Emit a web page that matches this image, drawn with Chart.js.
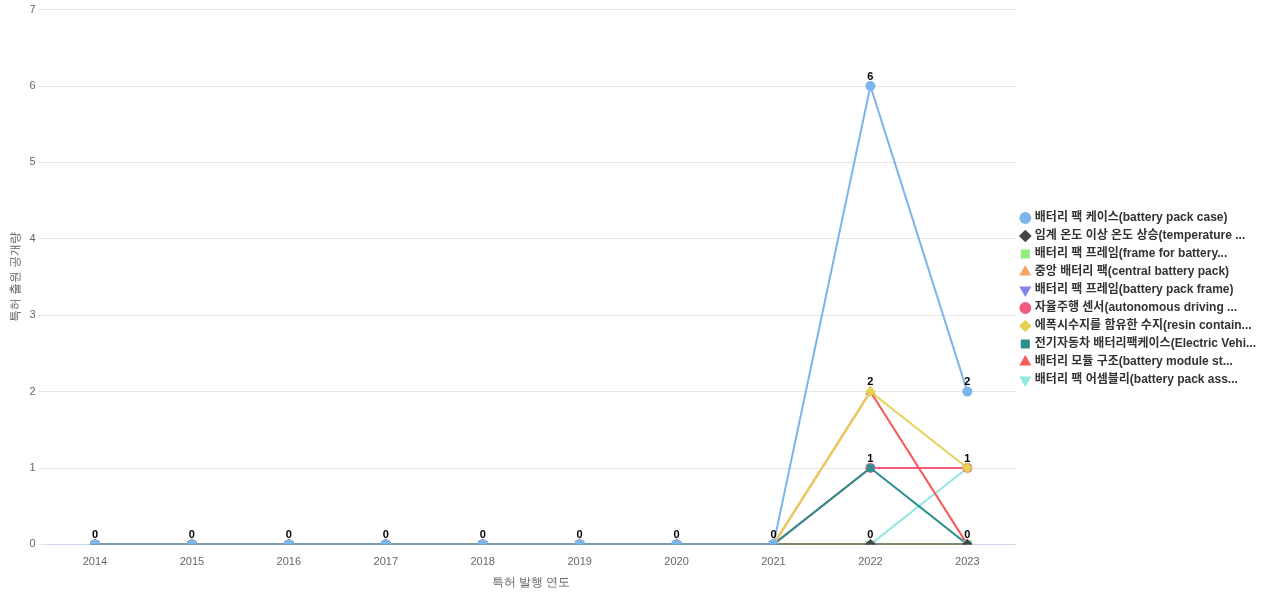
<!DOCTYPE html>
<html><head><meta charset="utf-8">
<script src="https://cdn.jsdelivr.net/npm/chart.js@4"></script>
<style>body{margin:0;background:#fff}#w{width:1280px;height:600px}</style>
</head><body><div id="w"><canvas id="c"></canvas></div>
<script>
const years = ['2014','2015','2016','2017','2018','2019','2020','2021','2022','2023'];
const names = ['배터리 팩 케이스(battery pack case)','임계 온도 이상 온도 상승(temperature ...','배터리 팩 프레임(frame for battery...','중앙 배터리 팩(central battery pack)','배터리 팩 프레임(battery pack frame)','자율주행 센서(autonomous driving ...','에폭시수지를 함유한 수지(resin contain...','전기자동차 배터리팩케이스(Electric Vehi...','배터리 모듈 구조(battery module st...','배터리 팩 어셈블리(battery pack ass...'];
const s0 = [0,0,0,0,0,0,0,0,6,2];
const s1 = [0,0,0,0,0,0,0,0,0,0];
const s2 = [0,0,0,0,0,0,0,0,0,0];
const s3 = [0,0,0,0,0,0,0,0,0,0];
const s4 = [0,0,0,0,0,0,0,0,0,0];
const s5 = [0,0,0,0,0,0,0,0,1,1];
const s6 = [0,0,0,0,0,0,0,0,2,1];
const s7 = [0,0,0,0,0,0,0,0,1,0];
const s8 = [0,0,0,0,0,0,0,0,2,0];
const s9 = [0,0,0,0,0,0,0,0,0,1];
const series = [s0,s1,s2,s3,s4,s5,s6,s7,s8,s9];
const colors = ['#7cb5ec','#434348','#90ed7d','#f7a35c','#8085e9','#f15c80','#e4d354','#2b908f','#f45b5b','#91e8e1'];
const styles = ['circle','rectRot','rect','triangle','triangle','circle','rectRot','rect','triangle','triangle'];
const rots = [0,0,0,0,180,0,0,0,0,180];
const orders = [0,1,2,3,4,8,5,6,7,9];
const labelPlugin = {id:'lbl',afterDatasetsDraw(ch){
  const ctx=ch.ctx;ctx.save();ctx.font='bold 11px "Liberation Sans",Arial';ctx.fillStyle='#000';ctx.textAlign='center';ctx.textBaseline='bottom';
  years.forEach((y,i)=>{const seen=new Set();ch.data.datasets.forEach((d,di)=>{const v=d.data[i];if(seen.has(v))return;seen.add(v);
    const p=ch.getDatasetMeta(di).data[i];ctx.fillText(String(v),p.x,p.y-4);});});
  ctx.restore();}};
new Chart(document.getElementById('c'),{type:'line',
 data:{labels:years,datasets:series.map((d,i)=>({label:names[i],data:d,borderColor:colors[i],backgroundColor:colors[i],pointStyle:styles[i],rotation:rots[i],pointRadius:4,borderWidth:2,order:orders[i],tension:0}))},
 options:{responsive:true,maintainAspectRatio:false,animation:false,
  layout:{padding:{top:4,right:14,left:4,bottom:6}},
  plugins:{legend:{position:'right',labels:{sort:(a,b)=>a.datasetIndex-b.datasetIndex,usePointStyle:true,boxWidth:7,boxHeight:7,padding:6,color:'#333',font:{size:12,weight:'bold',family:'"Liberation Sans","Noto Sans CJK KR",Arial'}}},tooltip:{enabled:false}},
  scales:{x:{offset:true,grid:{display:false},border:{color:'#ccd6eb'},ticks:{color:'#666',font:{size:11}},title:{display:true,text:'특허 발행 연도',color:'#666',font:{size:12}}},
   y:{min:0,max:7,ticks:{stepSize:1,color:'#666',font:{size:11}},grid:{color:'#e6e6e6'},border:{display:false},title:{display:true,text:'특허 출원 공개량',color:'#666',font:{size:12}}}}},
 plugins:[labelPlugin]});
</script></body></html>
